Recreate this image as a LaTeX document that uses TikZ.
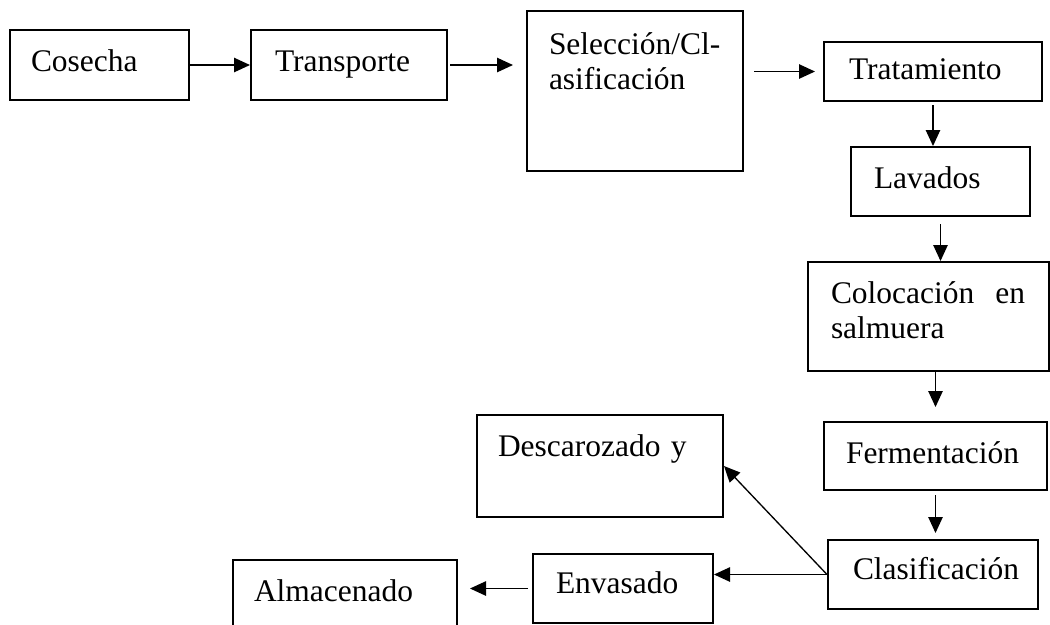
\documentclass[tikz,border=0pt]{standalone}
\usepackage{fontspec}
\setmainfont{Liberation Serif}
\usetikzlibrary{arrows.meta}
\newdimen\px \px=0.375pt
\tikzset{
  caja/.style n args={4}{draw, line width=0.75pt, anchor=north west, align=left,
    inner ysep=0pt, inner xsep=#1\px, text width=#2\px, text height=#3\px, text depth=#4\px},
  flecha/.style={line width=0.5pt, -{Triangle[length=6pt,width=5.4pt]}}
}
\begin{document}
\begin{tikzpicture}[x=0.375pt, y=-0.375pt, font=\fontsize{11.8}{13.2}\selectfont]
\useasboundingbox (0,0) rectangle (1050,624);
\clip (0,0) rectangle (1050,624);
% etapas del proceso
\node[caja={21}{137}{41}{29}] (cosecha) at (9,29) {Cosecha};
\node[caja={24}{148}{41}{29}] (transporte) at (250,29) {Transporte};
\node[caja={22}{172}{43}{117}] (seleccion) at (526,10) {Selección/Cl-\\asificación};
\node[caja={25}{168}{37}{22}] (tratamiento) at (823,41) {Tratamiento};
\node[caja={23}{133}{41}{28}] (lavados) at (850,146) {Lavados};
\node[caja={23}{195}{41}{68}] (colocacion) at (807,261) {Colocación\ \ en\\salmuera};
\node[caja={22}{179}{41}{27}] (fermentacion) at (823,421) {Fermentación};
\node[caja={25}{160}{39}{30}] (clasificacion) at (827,539) {Clasificación};
\node[caja={21}{204}{41}{61}] (descarozado) at (476,414) {Descarozado y};
\node[caja={23}{134}{39}{30}] (envasado) at (532,553) {Envasado};
\node[caja={21}{182}{41}{50}] (almacenado) at (232,559) {Almacenado};
% flechas
\draw[flecha] (cosecha.east) -- (transporte.west);
\draw[flecha, shorten <=2\px, shorten >=13\px] (transporte.east) -- (transporte.east -| seleccion.west);
\draw[flecha, shorten <=10\px, shorten >=8\px] (seleccion.east |- tratamiento.west) -- (tratamiento.west);
\draw[flecha, shorten <=3\px] (tratamiento.south) -- (tratamiento.south |- lavados.north);
\draw[flecha, shorten <=7\px] (lavados.south) -- (lavados.south |- colocacion.north);
\draw[flecha, shorten >=14\px] (fermentacion.north |- colocacion.south) -- (fermentacion.north);
\draw[flecha, shorten <=4\px, shorten >=6\px] (fermentacion.south) -- (fermentacion.south |- clasificacion.north);
\draw[flecha] (clasificacion.west) -- (descarozado.east);
\draw[flecha] (clasificacion.west) -- (clasificacion.west -| envasado.east);
\draw[flecha, shorten <=4\px, shorten >=12\px] (envasado.west) -- (envasado.west -| almacenado.east);
\end{tikzpicture}
\end{document}
